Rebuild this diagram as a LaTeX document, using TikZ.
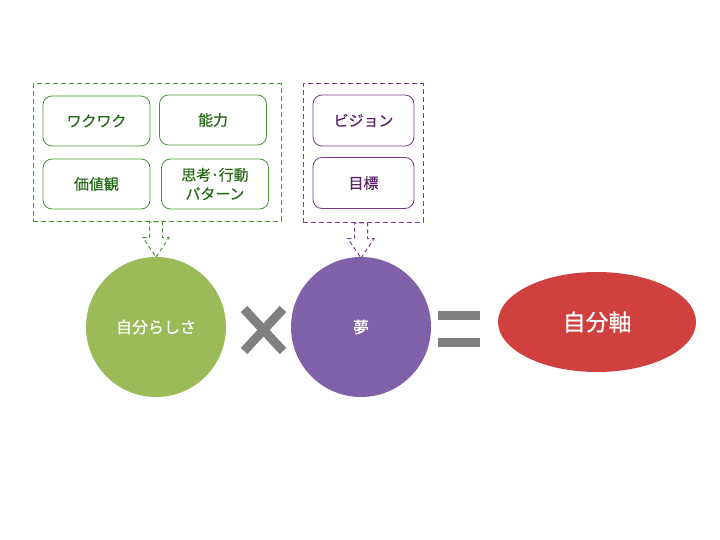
\documentclass[tikz,border=0pt]{standalone}
\usepackage{fontspec}
\newfontfamily\jp[FakeBold=0.6]{Noto Sans CJK JP}
\usetikzlibrary{shapes.arrows,shapes.geometric,positioning}
\definecolor{SelfGreen}{RGB}{155,187,89}
\definecolor{LineGreen}{RGB}{70,150,50}
\definecolor{TextGreen}{RGB}{40,105,25}
\definecolor{DreamPurple}{RGB}{128,96,168}
\definecolor{LinePurple}{RGB}{120,60,140}
\definecolor{TextPurple}{RGB}{90,35,105}
\definecolor{AxisRed}{RGB}{208,64,62}
\definecolor{OpGray}{RGB}{128,128,128}
\tikzset{
  gbox/.style={draw=LineGreen,rounded corners=9bp,line width=0.8pt,
               minimum width=107bp,minimum height=50bp,align=center,
               text=TextGreen,font=\jp\fontsize{15}{19}\selectfont},
  pbox/.style={gbox,draw=LinePurple,text=TextPurple,minimum width=101bp,
               minimum height=51bp},
  frame/.style={draw,dash pattern=on 5bp off 3bp,line width=1pt,inner sep=0pt},
  blockarr/.style={single arrow,draw,dash pattern=on 4bp off 3bp,line width=1pt,
               rotate=-90,minimum height=35bp,inner sep=6bp,
               single arrow head extend=6.5bp,single arrow tip angle=68},
}
\begin{document}
\begin{tikzpicture}[x=1bp,y=-1bp,
    bigcirc/.style={circle,minimum size=140bp,inner sep=0pt,text=white,
                    font=\jp\fontsize{16}{18}\selectfont},
    opline/.style={OpGray,line width=9bp}
  ]
  \useasboundingbox (0,0) rectangle (720,540);

  % self: left group
  \node[frame,draw=LineGreen,minimum width=248bp,minimum height=137bp] (selfframe) at (157,152.5) {};
  \node[gbox] (wakuwaku) at (96.5,121) {ワクワク};
  \node[gbox] (ability) at (213,120) {能力};
  \node[gbox] (values) at (96.5,184) {価値観};
  \node[gbox] (thinking) at (215,184) {思考･行動\\パターン};

  % dream: right group
  \node[frame,draw=LinePurple,minimum width=120bp,minimum height=138bp] (dreamframe) at (363,153) {};
  \node[pbox] (vision) at (363.5,120.5) {ビジョン};
  \node[pbox] (goal) at (363.5,183) {目標};

  % formula
  \node[bigcirc,fill=SelfGreen] (self) at (156,327) {自分らしさ};
  \node[bigcirc,fill=DreamPurple] (dream) at (361,327) {夢};
  \node[ellipse,fill=AxisRed,minimum width=198bp,minimum height=100bp,text=white,
        font=\jp\fontsize{23}{25}\selectfont] (axis) at (597,322) {自分軸};

  \node[blockarr,draw=LineGreen,anchor=west] (selfarr) at (selfframe.south -| self) {};
  \node[blockarr,draw=LinePurple,anchor=west] (dreamarr) at (dreamframe.south -| dream) {};

  % operators
  \draw[opline] (244,309) -- (283,351);
  \draw[opline] (244,351) -- (283,309);
  \draw[opline] (438,315.5) -- (480,315.5);
  \draw[opline] (438,342) -- (480,342);
\end{tikzpicture}
\end{document}
